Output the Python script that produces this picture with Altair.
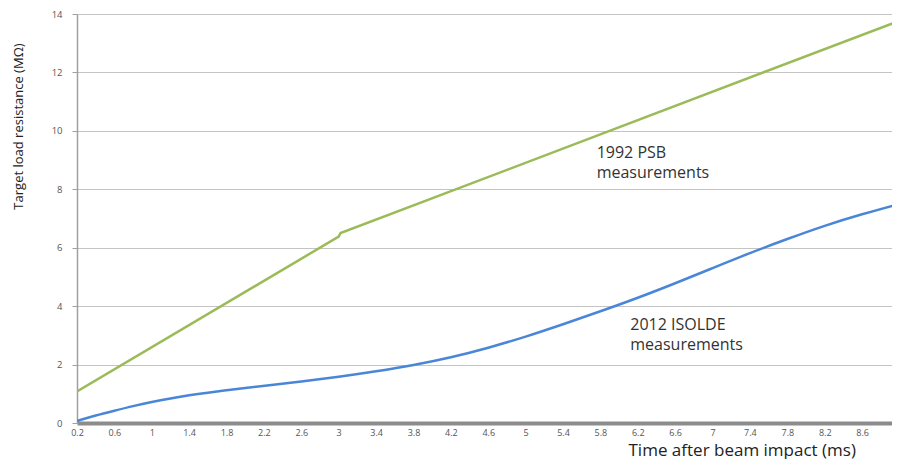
import altair as alt
import pandas as pd

# ISOLDE 2012 (blue)
blue_x = [0.2, 0.4, 0.6, 0.8, 1.0, 1.2, 1.4, 1.6, 1.8, 2.0, 2.2, 2.6, 3.0, 3.4, 3.8,
          4.2, 4.6, 5.0, 5.4, 5.8, 6.2, 6.6, 7.0, 7.4, 7.8, 8.2, 8.6, 9.0]
blue_y = [0.07, 0.26, 0.42, 0.58, 0.72, 0.84, 0.95, 1.04, 1.12, 1.20, 1.27, 1.42, 1.58, 1.77, 1.98,
          2.24, 2.57, 2.95, 3.38, 3.82, 4.28, 4.78, 5.30, 5.82, 6.30, 6.76, 7.15, 7.50]

# PSB 1992 (green)
green_x = [0.2, 3.0, 3.02, 9.0]
green_y = [1.08, 6.38, 6.50, 13.77]

x_ticks = [0.2, 0.6, 1.0, 1.4, 1.8, 2.2, 2.6, 3.0, 3.4, 3.8, 4.2, 4.6, 5.0, 5.4,
           5.8, 6.2, 6.6, 7.0, 7.4, 7.8, 8.2, 8.6]
y_ticks = [0, 2, 4, 6, 8, 10, 12, 14]

note_text = ["1992 PSB\nmeasurements", "2012 ISOLDE\nmeasurements"]
note_x = [5.76, 6.12]
note_y = [9.24, 3.35]

blue_df = pd.DataFrame({"t": blue_x, "r": blue_y, "i": range(len(blue_x))})
green_df = pd.DataFrame({"t": green_x, "r": green_y, "i": range(len(green_x))})
note_df = pd.DataFrame({"label": note_text, "t": note_x, "r": note_y})

xscale = alt.Scale(domain=[0.2, 8.92], nice=False, zero=False)
yscale = alt.Scale(domain=[0, 14], nice=False)

xaxis = alt.Axis(
    values=x_ticks, format="~g", title="Time after beam impact (ms)",
    grid=False, ticks=False, domainColor="#8c8c8c", domainWidth=4,
    labelFont="Open Sans", labelFontSize=9, labelColor="#555555", labelPadding=5,
    labelFlush=False, labelOverlap=False,
    titleFont="Open Sans", titleFontSize=17, titleFontWeight="normal", titleColor="#222222",
    titleAnchor="start", titleX=551, titleY=27, titleAlign="left", titleBaseline="middle")
yaxis = alt.Axis(
    values=y_ticks, title="Target load resistance (MΩ)",
    grid=True, gridColor="#c4c4c4", gridWidth=1,
    ticks=True, tickSize=5, tickColor="#a0a0a0",
    domainColor="#a0a0a0", domainWidth=1.5,
    labelFont="Open Sans", labelFontSize=9.5, labelColor="#555555", labelPadding=10,
    labelOverlap=False,
    titleFont="Open Sans", titleFontSize=13, titleFontWeight="normal", titleColor="#222222",
    titleX=-59, titleY=112, titleAlign="center", titleBaseline="middle", titleAngle=-90)

xenc = alt.X("t:Q", scale=xscale, axis=xaxis)
yenc = alt.Y("r:Q", scale=yscale, axis=yaxis)

green = alt.Chart(green_df).mark_line(color="#9BBB59", strokeWidth=2.5, clip=True).encode(
    x=xenc, y=yenc, order="i:O")
blue = alt.Chart(blue_df).mark_line(color="#4A86D8", strokeWidth=2.5, interpolate="basis", clip=True).encode(
    x=xenc, y=yenc, order="i:O")
notes = alt.Chart(note_df).mark_text(
    align="left", baseline="middle", font="Open Sans", fontSize=16, color="#333333",
    lineBreak="\n", lineHeight=20).encode(
    x=xenc, y=yenc, text="label:N")

chart = alt.layer(green, blue, notes).properties(
    width=815, height=409,
    autosize=alt.AutoSizeParams(type="none"),
    padding={"left": 69, "top": 6, "right": 0, "bottom": 36},
).configure_view(stroke=None).configure_axis(labelOverlap=False)

chart.save("out.html", embed_options={"renderer": "svg", "actions": False})
